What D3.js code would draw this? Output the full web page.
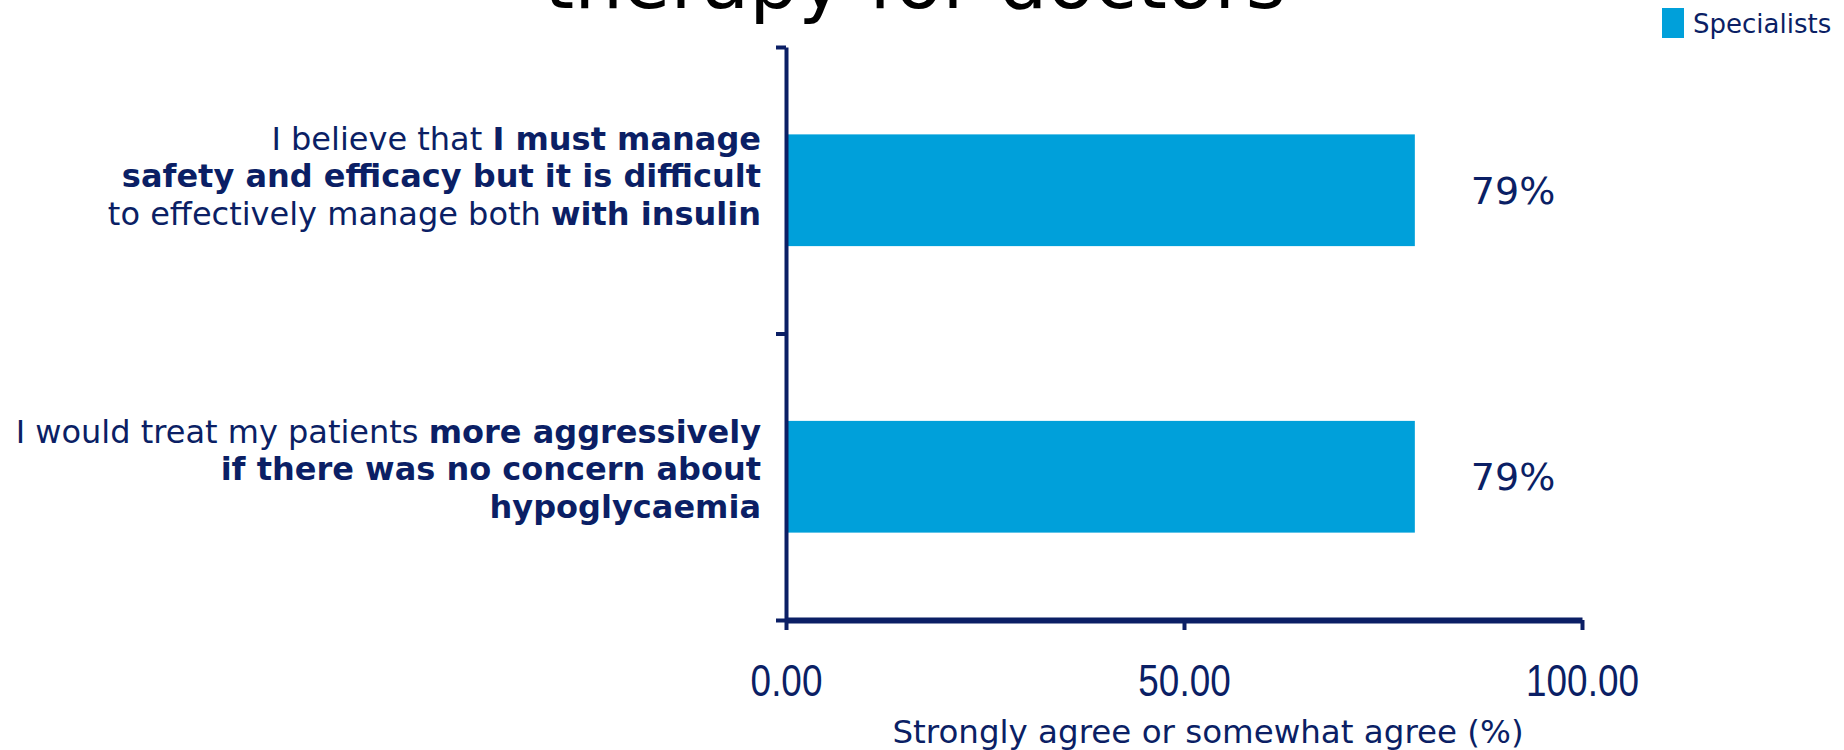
<!DOCTYPE html>
<html>
<head>
<meta charset="utf-8">
<script src="https://cdn.jsdelivr.net/npm/d3@7"></script>
<style>
    body { margin: 0; background: #fff; overflow: hidden; }
    text { font-family: "DejaVu Sans", Verdana, sans-serif; }
</style>
</head>
<body>
<div id="chart"></div>
<script>
// chart data
var categories = ["manage", "aggressive"];
// label lines for each category, each line is a list of [text, bold]
var categoryLines = [
    [[["I believe that ", false], ["I must manage", true]],
     [["safety and efficacy but it is difficult", true]],
     [["to effectively manage both ", false], ["with insulin", true]]],
    [[["I would treat my patients ", false], ["more aggressively", true]],
     [["if there was no concern about", true]],
     [["hypoglycaemia", true]]]
];
var specialists = [79, 79];
var xTicks = [0, 50, 100];
var seriesName = "Specialists";
var titleText = "therapy for doctors";
var xAxisTitle = "Strongly agree or somewhat agree (%)";

function main() {
    var width = 1844;
    var height = 750;
    var navy = "#0b1f65";
    var barColor = "#00a0da";

    var svg = d3.select("#chart")
        .append("svg")
        .attr("width", width)
        .attr("height", height);

    var xScale = d3.scaleLinear().domain([0, 100]).range([786, 1582]);
    var yScale = d3.scaleBand()
        .domain(categories)
        .range([47, 620])
        .paddingInner(0.61)
        .paddingOuter(0.305);
    // boundaries between categories, for the y axis ticks
    var yEdges = d3.scaleLinear().domain([0, categories.length]).range([47, 620]);
    // the label blocks don't sit exactly on the bar centres in the original
    var labelY = d3.scalePoint().domain(categories).range([187, 480]);

    // title (only the bottom of its last line is on the page)
    svg.append("text")
        .attr("x", 915)
        .attr("y", 8)
        .attr("text-anchor", "middle")
        .style("font-size", "77px")
        .attr("fill", "#000")
        .text(titleText);

    // bars
    svg.append("g")
        .selectAll("rect")
        .data(specialists)
        .enter().append("rect")
        .attr("x", xScale(0))
        .attr("y", function(d, i) { return yScale(categories[i]); })
        .attr("width", function(d) { return xScale(d) - xScale(0); })
        .attr("height", yScale.bandwidth())
        .attr("fill", barColor);

    // value labels
    svg.append("g")
        .selectAll("text")
        .data(specialists)
        .enter().append("text")
        .attr("x", function(d) { return xScale(d) + 56; })
        .attr("y", function(d, i) { return yScale(categories[i]) + yScale.bandwidth() / 2; })
        .attr("dy", "0.36em")
        .style("font-size", "38px")
        .attr("fill", navy)
        .text(function(d) { return d + "%"; });

    // Y axis
    var yAxis = svg.append("g")
        .attr("transform", "translate(" + xScale(0) + ",0)")
        .call(d3.axisLeft(yEdges)
            .tickValues(d3.range(categories.length + 1))
            .tickFormat("")
            .tickSize(10)
            .tickSizeOuter(0));
    yAxis.selectAll("path, line").attr("stroke", navy).attr("stroke-width", 4);

    // X axis
    var xAxis = svg.append("g")
        .attr("transform", "translate(0," + yEdges(categories.length) + ")")
        .call(d3.axisBottom(xScale)
            .tickValues(xTicks)
            .tickFormat(d3.format(".2f"))
            .tickSize(10)
            .tickSizeOuter(0));
    xAxis.select(".domain").attr("stroke", navy).attr("stroke-width", 6);
    xAxis.selectAll(".tick line").attr("stroke", navy).attr("stroke-width", 4);
    // narrow digits like the original
    xAxis.selectAll(".tick text")
        .attr("y", 60)
        .attr("dy", "0.36em")
        .attr("transform", "scale(0.82,1)")
        .attr("fill", navy)
        .style("font-family", "'Liberation Sans', Arial, sans-serif")
        .style("font-size", "45px");

    // category labels
    categories.forEach(function(c, i) {
        var lines = categoryLines[i];
        var mid = labelY(c);
        lines.forEach(function(line, j) {
            var t = svg.append("text")
                .attr("x", 761)
                .attr("y", mid + (j - (lines.length - 1) / 2) * 37.5)
                .attr("text-anchor", "end")
                .style("font-size", "32px")
                .attr("fill", navy);
            line.forEach(function(seg) {
                t.append("tspan")
                    .style("font-weight", seg[1] ? "bold" : "normal")
                    .text(seg[0]);
            });
        });
    });

    // x axis title
    svg.append("text")
        .attr("x", 1208)
        .attr("y", 743)
        .attr("text-anchor", "middle")
        .style("font-size", "32.5px")
        .attr("fill", navy)
        .text(xAxisTitle);

    // legend
    var legend = svg.append("g").attr("transform", "translate(1662,8)");
    legend.append("rect")
        .attr("width", 22)
        .attr("height", 30)
        .attr("fill", barColor);
    legend.append("text")
        .attr("x", 31)
        .attr("y", 25)
        .style("font-size", "26px")
        .attr("fill", navy)
        .text(seriesName);
}

main();
</script>
</body>
</html>
